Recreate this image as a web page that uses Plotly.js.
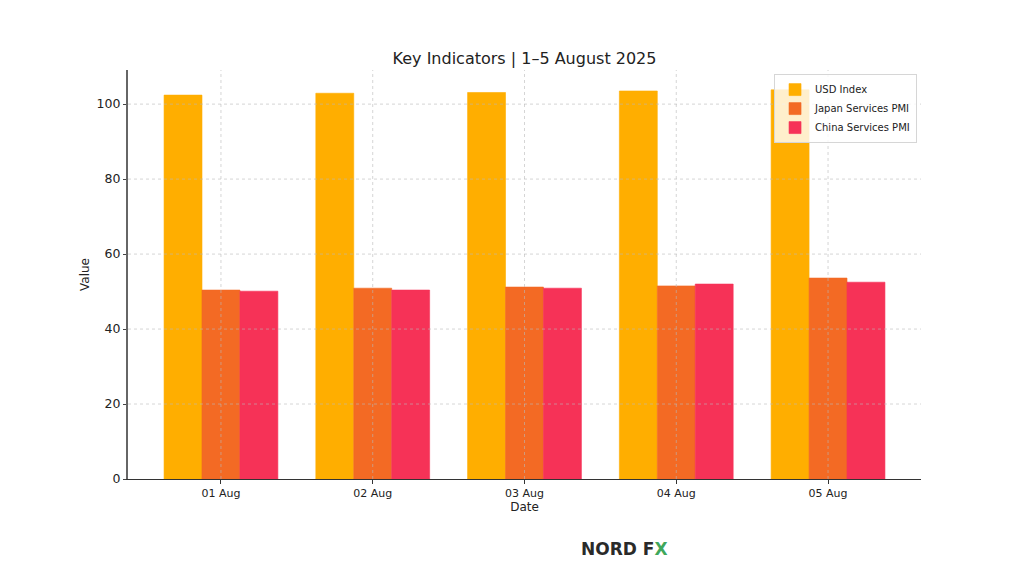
<!DOCTYPE html>
<html>
<head>
<meta charset="utf-8">
<script src="https://cdn.plot.ly/plotly-3.0.1.min.js"></script>
<style>
  html, body { margin: 0; padding: 0; background: #fff; }
  #chart { width: 1024px; height: 585px; }
</style>
</head>
<body>
<div id="chart"></div>
<script>
  // data
  var dates = ['01 Aug', '02 Aug', '03 Aug', '04 Aug', '05 Aug'];
  var usdIndex = [102.4, 102.9, 103.1, 103.5, 103.8];
  var japanPmi = [50.4, 50.9, 51.2, 51.5, 53.6];
  var chinaPmi = [50.1, 50.4, 50.9, 52.0, 52.5];
  var yTicks = [0, 20, 40, 60, 80, 100];

  var orange = '#ffae00';
  var redOrange = '#f36a24';
  var pink = '#f63257';
  var font = 'DejaVu Sans, Verdana, sans-serif';
  var gridColor = 'rgba(185,185,185,0.75)';

  function series(name, values, color) {
    return {
      type: 'bar',
      name: name,
      x: dates,
      y: values,
      marker: { color: color, line: { color: color, width: 0.6 } },
      hoverinfo: 'x+y+name'
    };
  }

  var traces = [
    series('USD Index', usdIndex, orange),
    series('Japan Services PMI', japanPmi, redOrange),
    series('China Services PMI', chinaPmi, pink)
  ];

  // grid sits above the bars in the original, so draw it as shapes
  var grid = [];
  dates.forEach(function (d, i) {
    grid.push({
      type: 'line', layer: 'above', xref: 'x', yref: 'paper',
      x0: i, x1: i, y0: 0, y1: 1,
      line: { color: gridColor, width: 0.8, dash: 'dot' }
    });
  });
  yTicks.slice(1).forEach(function (v) {
    grid.push({
      type: 'line', layer: 'above', xref: 'paper', yref: 'y',
      x0: 0, x1: 1, y0: v, y1: v,
      line: { color: gridColor, width: 0.8, dash: 'dot' }
    });
  });

  var layout = {
    width: 1024,
    height: 585,
    margin: { l: 128, r: 103, t: 70, b: 106 },
    paper_bgcolor: '#fff',
    plot_bgcolor: '#fff',
    font: { family: font, color: '#222' },
    title: {
      text: 'Key Indicators | 1–5 August 2025',
      font: { family: font, size: 16, color: '#222' },
      xref: 'paper', x: 0.5, xanchor: 'center',
      yref: 'container', y: 1 - 58 / 585, yanchor: 'middle'
    },
    barmode: 'group',
    bargap: 0.25,
    bargroupgap: 0,
    showlegend: true,
    legend: {
      x: 0.995, xanchor: 'right', y: 0.99, yanchor: 'top',
      bgcolor: 'rgba(255,255,255,0.8)',
      bordercolor: '#d6d6d6', borderwidth: 1,
      font: { family: font, size: 10, color: '#222' },
      tracegroupgap: 0
    },
    xaxis: {
      type: 'category',
      range: [-0.6125, 4.6125],
      showgrid: false,
      showline: true, linecolor: '#333', linewidth: 1.2,
      ticks: 'outside', ticklen: 3.5, tickcolor: '#333',
      tickfont: { family: font, size: 11, color: '#222' },
      title: { text: 'Date', font: { family: font, size: 12, color: '#222' }, standoff: 1 },
      zeroline: false
    },
    yaxis: {
      range: [0, 109.1],
      tickvals: yTicks,
      showgrid: false,
      showline: true, linecolor: '#666', linewidth: 1.6,
      ticks: 'outside', ticklen: 3.5, tickcolor: '#444',
      tickfont: { family: font, size: 12.5, color: '#222' },
      title: { text: 'Value', font: { family: font, size: 12, color: '#222' }, standoff: 4 },
      zeroline: false
    },
    shapes: grid,
    annotations: [{
      xref: 'paper', yref: 'paper', x: (624 - 128) / 793, y: -70 / 409,
      xanchor: 'center', yanchor: 'middle', showarrow: false,
      text: '<b>NORD F<span style="color:#3fa75b">X</span></b>',
      font: { family: font, size: 17, color: '#2a2a2a' }
    }]
  };

  Plotly.newPlot('chart', traces, layout, { displayModeBar: false, staticPlot: true });
</script>
</body>
</html>
